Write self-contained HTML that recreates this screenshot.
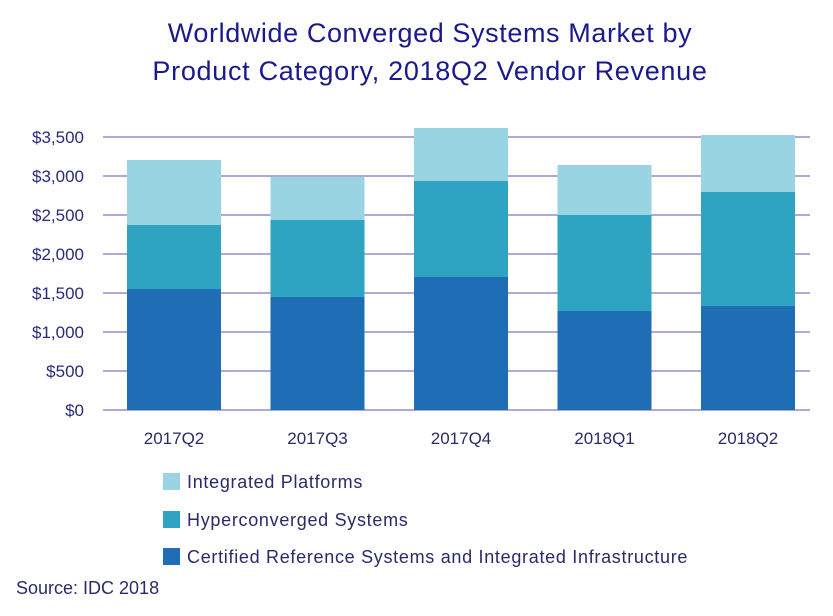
<!DOCTYPE html>
<html><head><meta charset="utf-8"><style>
body{margin:0;background:#fff;width:833px;height:611px;overflow:hidden;font-family:"Liberation Sans",sans-serif}
</style></head><body>
<svg width="833" height="611">
<text x="430" y="42" text-anchor="middle" font-size="27" fill="#1a1a8c" letter-spacing="0.6">Worldwide Converged Systems Market by</text>
<text x="430" y="80" text-anchor="middle" font-size="27" fill="#1a1a8c" letter-spacing="0.7">Product Category, 2018Q2 Vendor Revenue</text>
<g id="grid"></g><g id="bars"></g><g id="ylab"></g><g id="xlab"></g>
<g letter-spacing="0.7">
<rect x="163" y="473" width="17" height="17" fill="#98d4e2"/>
<text x="187" y="488" font-size="18" fill="#2a2a6a">Integrated Platforms</text>
<rect x="163" y="511" width="17" height="17" fill="#2fa3c2"/>
<text x="187" y="526" font-size="18" fill="#2a2a6a">Hyperconverged Systems</text>
<rect x="163" y="548" width="17" height="17" fill="#1f6db5"/>
<text x="187" y="563" font-size="18" fill="#2a2a6a">Certified Reference Systems and Integrated Infrastructure</text>
</g>
<text x="16" y="594" font-size="18" fill="#2a2a6a">Source: IDC 2018</text>
</svg>
<script>
const categories=["2017Q2","2017Q3","2017Q4","2018Q1","2018Q2"];
const certified=[1551,1449,1705,1269,1333];
const hyperconverged=[821,987,1231,1231,1462];
const integrated=[833,551,679,641,731];
const yTicks=[0,500,1000,1500,2000,2500,3000,3500];
const yTickLabels=["$0","$500","$1,000","$1,500","$2,000","$2,500","$3,000","$3,500"];
const NS="http://www.w3.org/2000/svg";
const y=v=>410-v*273/3500;
const xc=i=>174+i*143.5;
function mk(t,a,p){const e=document.createElementNS(NS,t);for(const k in a)e.setAttribute(k,a[k]);document.getElementById(p).appendChild(e);return e;}
yTicks.forEach((t,i)=>{
 const l=mk('line',{x1:103,x2:810,y1:y(t),y2:y(t),stroke:'#b0a8d6','stroke-width':2},'grid');
 
 
 const tx=mk('text',{x:84,y:y(t)+6,'text-anchor':'end','font-size':17,fill:'#2a2a7a'},'ylab');
 tx.textContent=yTickLabels[i];
 
 
});
const series=[[certified,'#1f6db5','certified'],[hyperconverged,'#2fa3c2','hyperconverged'],[integrated,'#98d4e2','integrated']];
categories.forEach((c,i)=>{
 let base=0;
 series.forEach(([arr,col,nm])=>{
  const r=mk('rect',{x:xc(i)-47,width:94,y:y(base+arr[i]),height:y(base)-y(base+arr[i]),fill:col},'bars');
  
  
  base+=arr[i];
 });
 const tx=mk('text',{x:xc(i),y:444,'text-anchor':'middle','font-size':17,fill:'#2a2a6a'},'xlab');
 tx.textContent=c;
 
 
});
</script>
</body></html>
